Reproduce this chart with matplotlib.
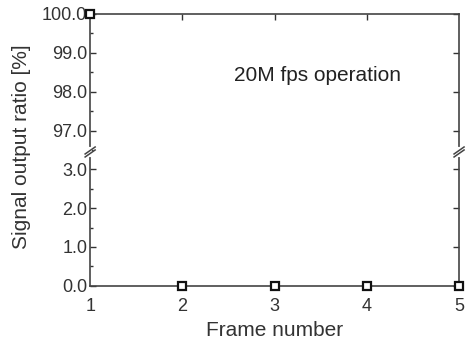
import matplotlib
matplotlib.use("Agg")
import matplotlib.pyplot as plt
from matplotlib.ticker import MultipleLocator
import matplotlib.lines as mlines

plt.rcParams['font.family'] = ['Liberation Sans', 'DejaVu Sans']

frames = [1, 2, 3, 4, 5]
ratio = [100.0, 0.0, 0.0, 0.0, 0.0]
upper_ticks = [97.0, 98.0, 99.0, 100.0]
lower_ticks = [0.0, 1.0, 2.0, 3.0]

fig = plt.figure(figsize=(4.67, 3.47), dpi=100)
L, R = 0.193, 0.983
B, BRK, T = 0.176, 0.562, 0.960
ax_top = fig.add_axes([L, BRK, R - L, T - BRK])
ax_bot = fig.add_axes([L, B, R - L, BRK - B])

ax_top.set_ylim(96.46, 100.0)
ax_bot.set_ylim(0.0, 3.44)
tc = '#333333'
for ax in (ax_top, ax_bot):
    ax.set_xlim(1, 5)
    ax.plot(frames, ratio, linestyle='none', marker='s', markersize=5.5,
            markerfacecolor='white', markeredgecolor='#111111',
            markeredgewidth=1.6, clip_on=False, zorder=5)
    ax.yaxis.set_minor_locator(MultipleLocator(0.5))
    ax.tick_params(axis='both', which='both', direction='in', colors=tc,
                   labelcolor=tc, labelsize=13, width=1.0)
    ax.tick_params(which='major', length=4)
    ax.tick_params(which='minor', length=2.5)
    ax.tick_params(axis='y', right=True, pad=2)
    for s in ax.spines.values():
        s.set_color('#444444')
        s.set_linewidth(1.2)

ax_top.set_yticks(upper_ticks)
ax_top.set_yticklabels([f"{v:.1f}" for v in upper_ticks])
ax_top.spines['bottom'].set_visible(False)
ax_top.tick_params(axis='x', bottom=False, labelbottom=False, top=True)
ax_top.set_xticks([2, 3, 4])

ax_bot.set_yticks(lower_ticks)
ax_bot.set_yticklabels([f"{v:.1f}" for v in lower_ticks])
ax_bot.spines['top'].set_visible(False)
ax_bot.set_xticks(frames)
ax_bot.set_xticklabels([str(f) for f in frames])
ax_bot.tick_params(axis='x', bottom=True, length=0, pad=9)

ax_bot.set_xlabel("Frame number", fontsize=15, color=tc, labelpad=4)
fig.text(0.047, (B + T) / 2 + 0.01, "Signal output ratio [%]", rotation=90,
         fontsize=15, color=tc, ha='center', va='center')

ax_top.text(0.617, 0.555, "20M fps operation", transform=ax_top.transAxes,
            fontsize=15, color='#222222', ha='center', va='center')

# break marks
W, H = fig.get_size_inches() * fig.dpi
dx, dy = 5 / W, 3.5 / H
gap = 3 / H
for x in (L, R):
    fig.add_artist(mlines.Line2D([x, x], [BRK - gap / 2 - 0.004, BRK + gap / 2 + 0.004],
                                 color='white', lw=3, zorder=3))
    for off in (-gap / 2, gap / 2):
        y = BRK + off
        fig.add_artist(mlines.Line2D([x - dx, x + dx], [y - dy, y + dy],
                                     color='#444444', lw=1.1, zorder=4))

fig.savefig("out.png", dpi=100)
